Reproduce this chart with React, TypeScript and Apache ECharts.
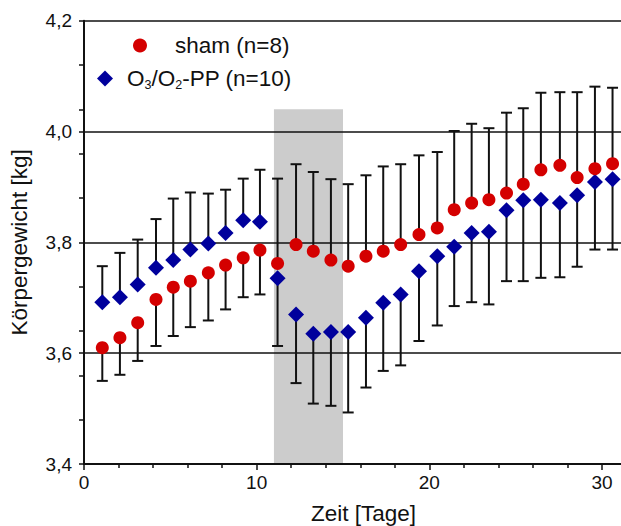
import React, { useEffect, useRef } from "react";
import * as echarts from "echarts";

// Zeit [Tage]
const days = [1.06, 2.08, 3.11, 4.17, 5.17, 6.16, 7.2, 8.2, 9.22, 10.19, 11.21, 12.28, 13.28, 14.3, 15.3, 16.33, 17.33, 18.34, 19.4, 20.46, 21.44, 22.45, 23.45, 24.47, 25.44, 26.46, 27.56, 28.56, 29.59, 30.61];
// sham (n=8): mean and end of the (one-sided) error bar
const shamMean = [3.610, 3.628, 3.655, 3.697, 3.719, 3.730, 3.745, 3.759, 3.772, 3.786, 3.762, 3.796, 3.784, 3.768, 3.757, 3.775, 3.784, 3.796, 3.814, 3.826, 3.859, 3.871, 3.877, 3.889, 3.905, 3.931, 3.939, 3.917, 3.933, 3.942];
const shamBarEnd = [3.550, 3.561, 3.586, 3.613, 3.631, 3.647, 3.659, 3.679, 3.701, 3.706, 3.915, 3.941, 3.927, 3.914, 3.905, 3.921, 3.937, 3.941, 3.957, 3.963, 4.001, 4.014, 4.006, 4.034, 4.042, 4.070, 4.071, 4.071, 4.081, 4.079];
// O3/O2-PP (n=10)
const o3Mean = [3.692, 3.701, 3.724, 3.754, 3.768, 3.787, 3.798, 3.817, 3.840, 3.837, 3.735, 3.670, 3.635, 3.638, 3.638, 3.664, 3.691, 3.706, 3.748, 3.775, 3.792, 3.817, 3.819, 3.858, 3.876, 3.877, 3.871, 3.885, 3.909, 3.914];
const o3BarEnd = [3.757, 3.781, 3.805, 3.842, 3.879, 3.890, 3.888, 3.895, 3.915, 3.931, 3.613, 3.546, 3.509, 3.505, 3.493, 3.538, 3.568, 3.578, 3.622, 3.650, 3.685, 3.692, 3.688, 3.730, 3.730, 3.736, 3.737, 3.756, 3.787, 3.787];

// Shaded period
const shadeX = [11, 15];
const shadeY = [3.4, 4.04];

// Ticks
const xMajorTicks = [0, 10, 20, 30];
const xMinorTicks = [2, 4, 6, 8, 12, 14, 16, 18, 22, 24, 26, 28];
const yMinorTicks = [3.48, 3.56, 3.64, 3.72, 3.88, 3.96, 4.04, 4.12];

const FONT = "'Liberation Sans', Arial, sans-serif";
const INK = "#111";

export default function App() {
  const ref = useRef<HTMLDivElement>(null);
  useEffect(() => {
    const chart = echarts.init(ref.current!, null, { renderer: "svg" });
    const errorBar = (params: any, api: any) => {
      const x = api.value(0);
      const y = api.value(1);
      const e = api.value(2);
      const p1 = api.coord([x, y]);
      const p2 = api.coord([x, e]);
      return {
        type: "group",
        children: [
          { type: "line", shape: { x1: p1[0], y1: p1[1], x2: p2[0], y2: p2[1] }, style: { stroke: INK, lineWidth: 2 } },
          { type: "line", shape: { x1: p2[0] - 5.5, y1: p2[1], x2: p2[0] + 5.5, y2: p2[1] }, style: { stroke: INK, lineWidth: 2 } },
        ],
      };
    };
    chart.setOption({
      animation: false,
      textStyle: { fontFamily: FONT },
      grid: { left: 84, right: 0, top: 20.7, bottom: 62, outerBoundsMode: "none", containLabel: false },
      legend: [
        {
          data: ["sham (n=8)"],
          left: 128,
          top: 29,
          icon: "circle",
          itemWidth: 14,
          itemHeight: 14,
          textStyle: { fontSize: 22.5, color: INK, fontFamily: FONT, padding: [0, 0, 0, 23] },
          selectedMode: false,
        },
        {
          data: ["O3/O2-PP (n=10)"],
          left: 92,
          top: 62,
          icon: "diamond",
          itemWidth: 16,
          itemHeight: 16,
          formatter: () => "{n|O}{s|3}{n|/O}{s|2}{n|-PP (n=10)}",
          textStyle: {
            fontSize: 22.5,
            color: INK,
            fontFamily: FONT,
            padding: [0, 0, 0, 9],
            rich: {
              n: { fontSize: 22.5, color: INK, fontFamily: FONT },
              s: { fontSize: 12.5, color: INK, fontFamily: FONT, verticalAlign: "bottom", padding: [0, 0, -1, 0] },
            },
          },
          selectedMode: false,
        },
      ],
      xAxis: [
        {
          type: "value",
          min: 0,
          max: 31.1,
          z: 3,
          name: "Zeit [Tage]",
          nameLocation: "middle",
          nameGap: 38,
          nameTextStyle: { fontSize: 22.5, color: INK, fontFamily: FONT, padding: [0, 0, 0, 22] },
          axisLine: { show: true, onZero: false, lineStyle: { color: INK, width: 2 } },
          axisTick: { show: true, customValues: xMajorTicks, length: 6, lineStyle: { color: INK, width: 1.5 } },
          axisLabel: { customValues: xMajorTicks, fontSize: 19, color: INK, fontFamily: FONT, margin: 9 },
          splitLine: { show: false },
        },
        {
          type: "value",
          min: 0,
          max: 31.1,
          position: "bottom",
          offset: 0,
          z: 3,
          axisLine: { show: false },
          axisTick: { show: true, customValues: xMinorTicks, length: 4, lineStyle: { color: INK, width: 1.5 } },
          axisLabel: { show: false },
          splitLine: { show: false },
        },
      ],
      yAxis: [
        {
          type: "value",
          min: 3.4,
          max: 4.2,
          interval: 0.2,
          z: 3,
          name: "Körpergewicht [kg]",
          nameLocation: "middle",
          nameGap: 53,
          nameRotate: 90,
          nameTextStyle: { fontSize: 22.5, color: INK, fontFamily: FONT },
          axisLine: { show: true, onZero: false, lineStyle: { color: INK, width: 2 } },
          axisTick: { show: true, length: 5, lineStyle: { color: INK, width: 1.5 } },
          axisLabel: {
            fontSize: 19,
            color: INK,
            fontFamily: FONT,
            margin: 12,
            formatter: (v: number) => v.toFixed(1).replace(".", ","),
          },
          splitLine: { show: true, lineStyle: { color: INK, width: 1.5 } },
        },
        {
          type: "value",
          min: 3.4,
          max: 4.2,
          position: "left",
          offset: 0,
          z: 3,
          axisLine: { show: false },
          axisTick: { show: true, customValues: yMinorTicks, length: 5, lineStyle: { color: INK, width: 1.5 } },
          axisLabel: { show: false },
          splitLine: { show: false },
        },
      ],
      series: [
        {
          type: "scatter",
          name: "shade",
          data: [],
          z: 1,
          silent: true,
          markArea: {
            silent: true,
            itemStyle: { color: "#cccccc", opacity: 1 },
            data: [[{ xAxis: shadeX[0], yAxis: shadeY[0] }, { xAxis: shadeX[1], yAxis: shadeY[1] }]],
          },
        },
        {
          type: "custom",
          name: "sham err",
          z: 4,
          renderItem: errorBar,
          encode: { x: 0, y: 1 },
          data: days.map((d, i) => [d, shamMean[i], shamBarEnd[i]]),
          silent: true,
        },
        {
          type: "custom",
          name: "o3 err",
          z: 4,
          renderItem: errorBar,
          encode: { x: 0, y: 1 },
          data: days.map((d, i) => [d, o3Mean[i], o3BarEnd[i]]),
          silent: true,
        },
        {
          type: "scatter",
          name: "O3/O2-PP (n=10)",
          z: 5,
          symbol: "diamond",
          symbolSize: 16,
          itemStyle: { color: "#00009c", opacity: 1 },
          data: days.map((d, i) => [d, o3Mean[i]]),
        },
        {
          type: "scatter",
          name: "sham (n=8)",
          z: 5,
          symbol: "circle",
          symbolSize: 13,
          itemStyle: { color: "#d40000", opacity: 1 },
          data: days.map((d, i) => [d, shamMean[i]]),
        },
      ],
    });
    return () => chart.dispose();
  }, []);
  return <div ref={ref} style={{ position: "absolute", left: 0, top: 0, width: 621, height: 526 }} />;
}
